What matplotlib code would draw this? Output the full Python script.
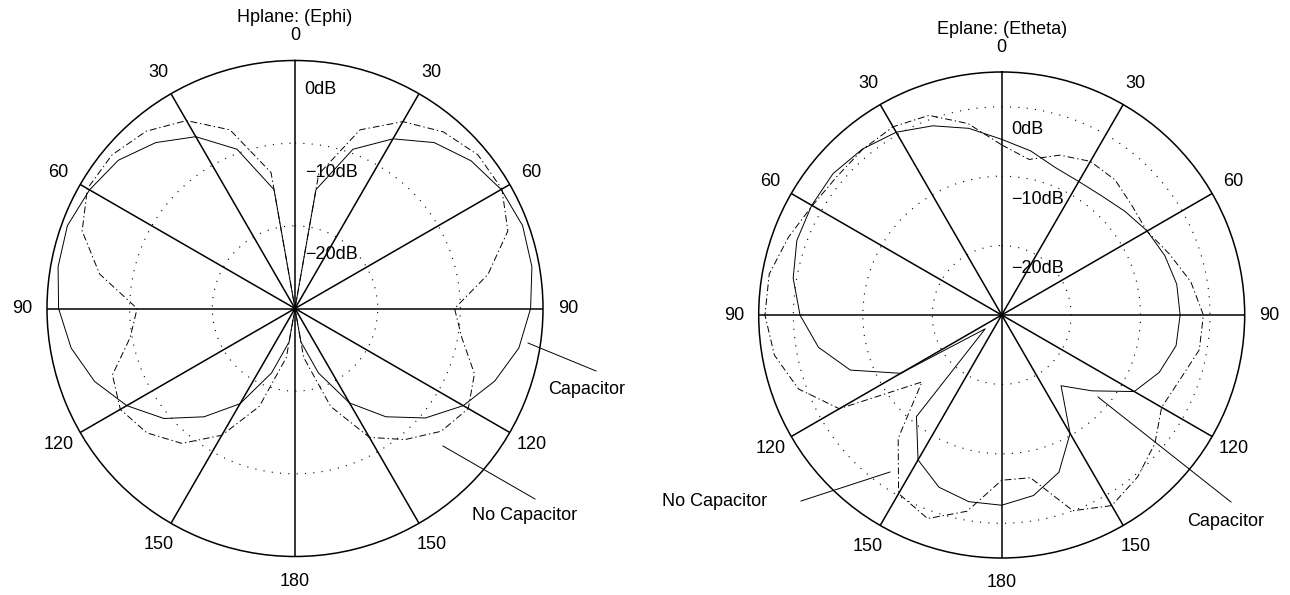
import numpy as np
import matplotlib.pyplot as plt
from matplotlib.lines import Line2D

plt.rcParams['font.family'] = ['Liberation Sans', 'DejaVu Sans']
plt.rcParams['font.size'] = 13

# measured pattern, dB, every 10 degrees from 0 to 350
angles = np.arange(0, 360, 10)

h_cap = [-30, -15.4, -9.5, -6.3, -3.8, -2.2, -1.2, -0.7, -0.9, -1.5,
         -2.5, -4.3, -6.5, -9.4, -12.9, -16.8, -21.7, -25.9, -30,
         -25.9, -21.7, -16.7, -12.9, -9.3, -6.5, -4.2, -2.5, -1.4,
         -0.9, -0.7, -1.3, -2.1, -3.8, -6.0, -9.5, -15.4]
h_nocap = [-30, -13.5, -7.0, -3.9, -2.1, -1.1, -1.1, -2.6, -6.3, -10.7,
           -9.5, -6.9, -5.8, -6.9, -9.3, -12.0, -17.4, -24.0, -30,
           -24.0, -17.4, -12.3, -8.7, -6.6, -5.6, -6.5, -9.75, -10.9,
           -6.0, -2.6, -1.0, -1.1, -2.0, -3.75, -7.0, -13.3]

e_cap = [-4.7, -6.0, -7.4, -7.8, -7.6, -6.8, -5.8, -5.0, -4.4, -4.3,
         -4.5, -5.85, -7.95, -13.0, -16.7, -10.3, -5.9, -3.6, -2.6,
         -2.7, -3.6, -5.9, -10.9, -26.9, -13.2, -6.8, -3.2, -0.95,
         0.5, 1.4, 1.6, 1.7, 1.2, 0.4, -1.0, -2.7]
e_nocap = [-5.5, -7.25, -5.5, -4.45, -4.6, -5.5, -5.85, -4.3, -2.35, -0.95,
           -1.1, -2.7, -3.4, -1.2, 0.45, 1.7, 0.0, -6.2, -6.2,
           -1.3, 1.2, -0.3, -6.8, -15.0, -3.0, 1.15, 3.25, 4.1,
           4.0, 2.7, 1.5, 1.0, 1.15, 1.3, 0.6, -2.0]

db_labels = ['0dB', '\u221210dB', '\u221220dB']
db_levels = [0, -10, -20]
offset = 30  # radius = dB + offset

W, H = 1290, 595


def px(x, y):
    return x / W, 1 - y / H


def panel(rect, title, cap, nocap, rmax, rings, drop):
    ax = fig.add_axes(rect, projection='polar')
    ax.set_theta_zero_location('N')
    ax.set_theta_direction(-1)
    ax.set_ylim(0, rmax)
    ax.set_xticks(np.radians(np.arange(0, 360, 30)))
    ax.set_yticks(rings)
    ax.set_xticklabels([])
    ax.set_yticklabels([])
    ax.tick_params(length=0)
    ax.xaxis.grid(True, color='k', lw=1.1, ls='-')
    ax.yaxis.grid(True, color='k', lw=0.8, ls=(0, (1, 6.5)))
    ax.spines['polar'].set_linewidth(1.1)

    th = np.radians(np.append(angles, 360))
    r_cap = np.clip(np.append(cap, cap[0]) + offset, 0, None)
    r_nocap = np.clip(np.append(nocap, nocap[0]) + offset, 0, None)
    ax.plot(th, r_cap, color='k', lw=0.7)
    ax.plot(th, r_nocap, color='k', lw=0.7, ls=(0, (7, 3, 1.4, 3)))

    for deg in range(0, 360, 30):
        lab = deg if deg <= 180 else 360 - deg
        ax.text(np.radians(deg), 1.1 * rmax, str(lab), ha='center', va='center')
    for lvl, lab in zip(db_levels, db_labels):
        ax.annotate(lab, xy=(0, lvl + offset - drop), xytext=(7, 0),
                    textcoords='offset points', ha='left', va='center')
    ax.text(0, 1.175 * rmax, title, ha='center', va='center')
    return ax


fig = plt.figure(figsize=(W / 100, H / 100), dpi=100)

panel([(295 - 248) / W, (H - 308.5 - 248) / H, 496 / W, 496 / H],
      'Hplane: (Ephi)', h_cap, h_nocap, 30, [10, 20], 3.5)
panel([(1001.7 - 243) / W, (H - 315 - 243) / H, 486 / W, 486 / H],
      'Eplane: (Etheta)', e_cap, e_nocap, 35, [10, 20, 30], 3.3)

# callouts
callouts = [
    ('Capacitor', (528, 343), (596, 371), (548, 390)),
    ('No Capacitor', (443, 446), (535, 499), (472, 515)),
    ('No Capacitor', (890, 472), (801, 501), (662, 502)),
    ('Capacitor', (1098, 397), (1231, 502), (1187, 522)),
]
for text, p0, p1, pt in callouts:
    (x0, y0), (x1, y1) = px(*p0), px(*p1)
    fig.add_artist(Line2D([x0, x1], [y0, y1], transform=fig.transFigure,
                          color='k', lw=0.7))
    fig.text(*px(*pt), text, ha='left', va='center')

fig.savefig('out.png', dpi=100)
